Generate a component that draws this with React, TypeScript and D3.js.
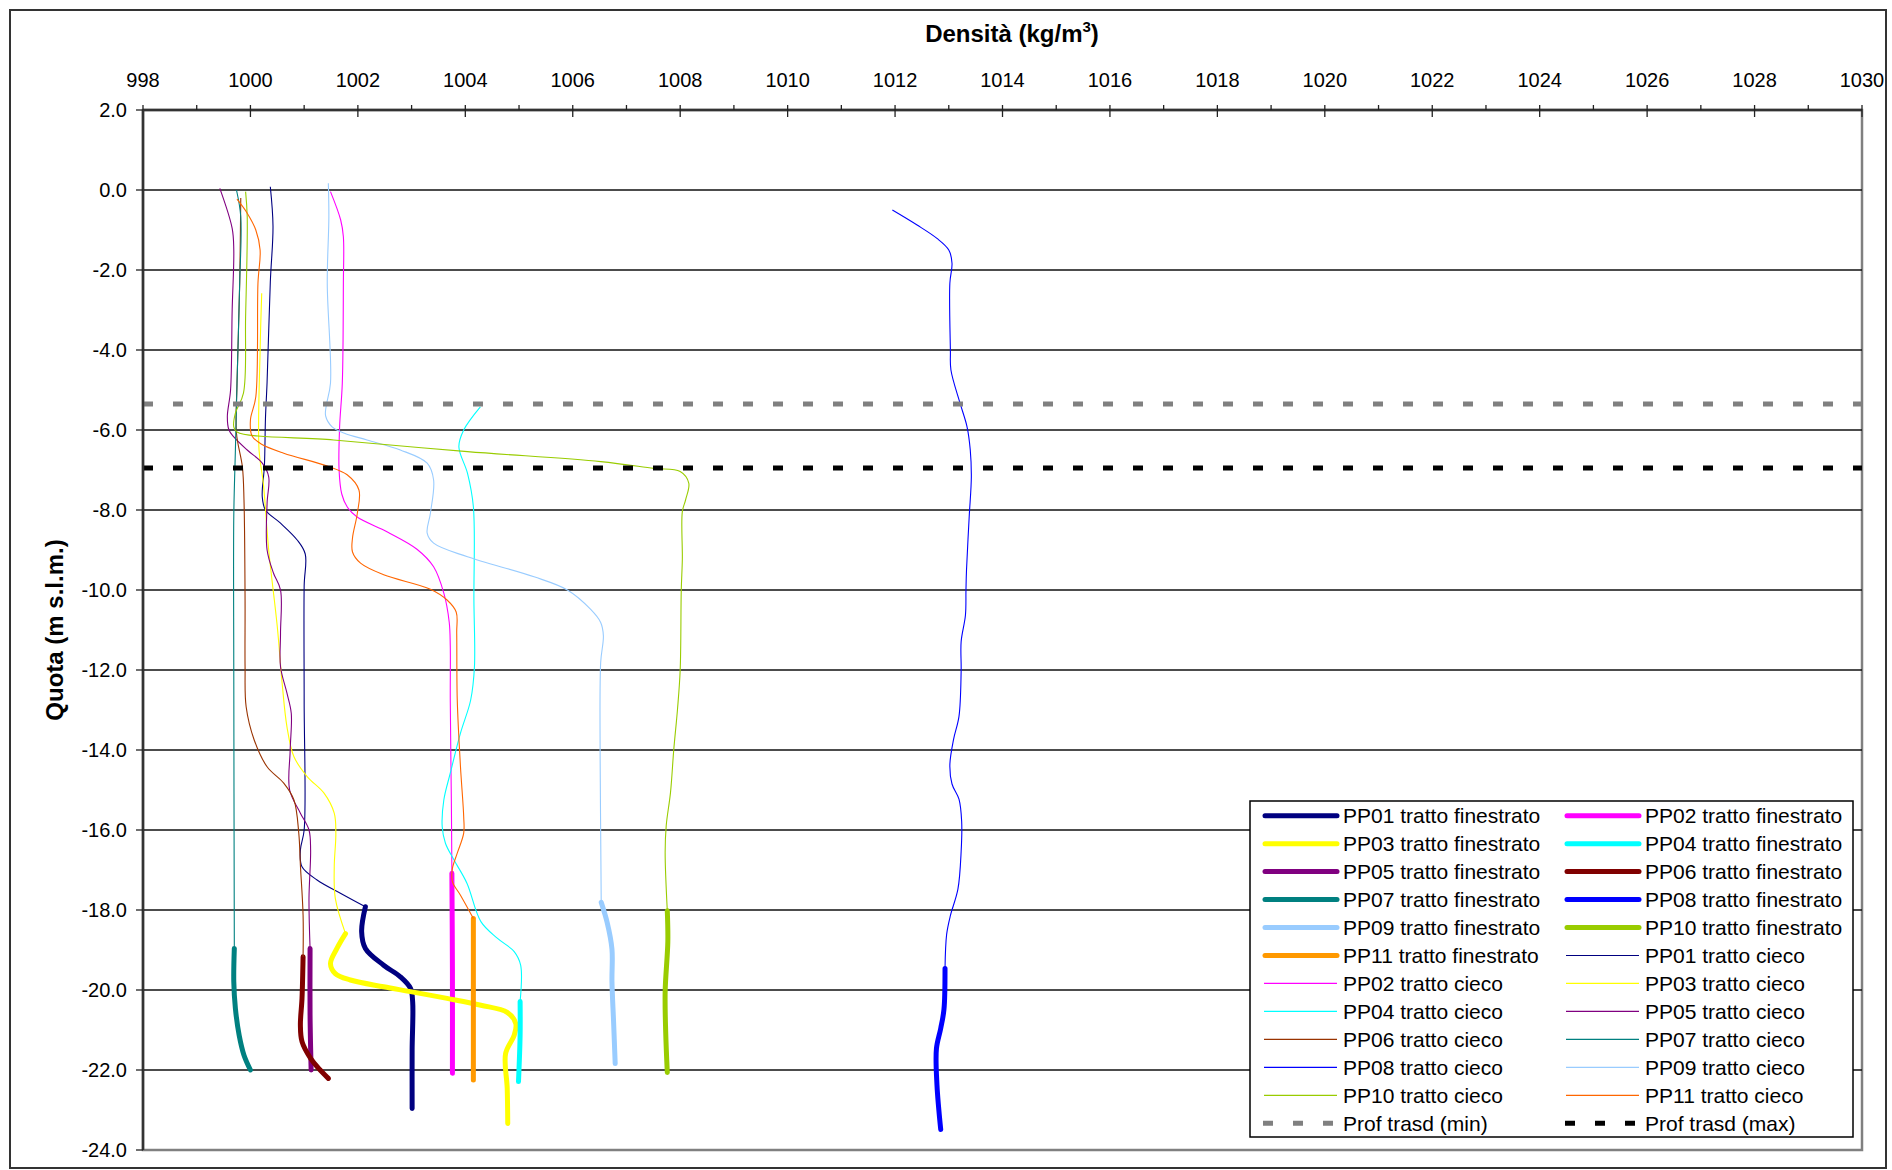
import React from "react";
import * as d3 from "d3";

// ---------- axis ticks ----------
const xTicks = d3.range(998, 1031, 2);
const xMinorTicks = d3.range(999, 1030, 2);
const yTicks = d3.range(2, -25, -2);

// ---------- series data: [density kg/m3, quota m s.l.m.] ----------
const pp01Fin = [[1002.14, -17.92], [1002.07, -18.54], [1002.14, -18.96], [1002.48, -19.38], [1002.79, -19.67], [1002.98, -19.96], [1003.02, -20.3], [1003.01, -21.5], [1003.01, -22.96]];
const pp02Fin = [[1003.75, -17.08], [1003.76, -19.5], [1003.76, -22.08]];
const pp03Fin = [[1001.77, -18.59], [1001.61, -18.96], [1001.49, -19.34], [1001.58, -19.59], [1001.86, -19.75], [1002.48, -19.92], [1002.98, -20.04], [1003.66, -20.21], [1004.29, -20.38], [1004.78, -20.56], [1004.94, -20.84], [1004.91, -21.13], [1004.75, -21.59], [1004.78, -22.46], [1004.79, -23.34]];
const pp04Fin = [[1005.02, -20.29], [1005.02, -21.13], [1004.99, -22.29]];
const pp05Fin = [[1001.11, -18.96], [1001.11, -20.63], [1001.13, -22.0]];
const pp06Fin = [[1000.98, -19.17], [1000.96, -20.21], [1000.93, -20.88], [1000.96, -21.29], [1001.12, -21.71], [1001.27, -21.96], [1001.45, -22.21]];
const pp07Fin = [[999.7, -18.96], [999.69, -19.79], [999.72, -20.46], [999.79, -21.13], [999.88, -21.63], [1000.0, -22.0]];
const pp08Fin = [[1012.93, -19.46], [1012.91, -20.49], [1012.85, -20.96], [1012.77, -21.47], [1012.78, -22.37], [1012.85, -23.49]];
const pp09Fin = [[1006.53, -17.81], [1006.64, -18.31], [1006.73, -18.98], [1006.73, -19.79], [1006.76, -20.79], [1006.79, -21.84]];
const pp10Fin = [[1007.76, -18.02], [1007.77, -18.79], [1007.72, -20.04], [1007.73, -21.04], [1007.76, -22.06]];
const pp11Fin = [[1004.15, -18.21], [1004.15, -20.0], [1004.15, -22.25]];

const pp01Cieco = [[1000.37, 0.08], [1000.42, -0.9], [1000.37, -2.3], [1000.31, -4.8], [1000.28, -5.7], [1000.26, -6.9], [1000.22, -7.67], [1000.28, -8.0], [1000.56, -8.33], [1000.87, -8.75], [1001.02, -9.1], [1001.0, -9.9], [1001.0, -12.75], [1001.0, -16.0], [1000.93, -16.5], [1000.96, -16.92], [1001.24, -17.25], [1001.7, -17.6], [1002.14, -17.92]];
const pp02Cieco = [[1001.49, -0.04], [1001.68, -0.75], [1001.73, -1.17], [1001.73, -2.33], [1001.71, -4.83], [1001.66, -5.92], [1001.65, -7.0], [1001.7, -7.6], [1001.8, -7.92], [1001.98, -8.17], [1002.55, -8.55], [1003.1, -8.98], [1003.41, -9.42], [1003.6, -10.08], [1003.7, -10.8], [1003.72, -11.4], [1003.72, -12.75], [1003.74, -15.25], [1003.75, -17.08]];
const pp03Cieco = [[1000.21, -2.58], [1000.18, -4.0], [1000.16, -6.5], [1000.24, -7.33], [1000.34, -9.0], [1000.5, -10.92], [1000.59, -12.33], [1000.68, -13.42], [1000.81, -14.17], [1001.06, -14.67], [1001.37, -15.08], [1001.56, -15.58], [1001.59, -16.08], [1001.56, -16.92], [1001.58, -17.71], [1001.77, -18.59]];
const pp04Cieco = [[1004.28, -5.42], [1003.97, -6.0], [1003.88, -6.42], [1004.04, -7.08], [1004.15, -7.92], [1004.16, -10.25], [1004.17, -11.92], [1004.1, -12.75], [1003.91, -13.58], [1003.72, -14.58], [1003.6, -15.25], [1003.57, -15.92], [1003.63, -16.33], [1003.79, -16.75], [1004.03, -17.33], [1004.29, -18.29], [1004.6, -18.71], [1004.91, -19.04], [1005.03, -19.38], [1005.02, -20.29]];
const pp05Cieco = [[999.43, 0.04], [999.66, -0.96], [999.69, -1.5], [999.66, -3.0], [999.63, -5.0], [999.57, -5.67], [999.6, -6.0], [999.69, -6.17], [999.94, -6.5], [1000.22, -6.83], [1000.34, -7.17], [1000.31, -7.83], [1000.31, -9.0], [1000.43, -9.58], [1000.56, -10.0], [1000.56, -11.08], [1000.56, -11.92], [1000.68, -12.58], [1000.76, -13.08], [1000.74, -14.0], [1000.73, -15.0], [1000.93, -15.58], [1001.09, -16.0], [1001.12, -16.5], [1001.09, -17.71], [1001.11, -18.96]];
const pp06Cieco = [[999.82, -0.2], [999.8, -2.33], [999.75, -4.83], [999.74, -6.08], [999.85, -6.92], [999.88, -7.75], [999.9, -10.25], [999.9, -11.92], [999.92, -12.92], [1000.07, -13.75], [1000.31, -14.42], [1000.62, -14.83], [1000.81, -15.25], [1000.9, -16.08], [1000.93, -16.88], [1000.98, -18.13], [1000.98, -19.17]];
const pp07Cieco = [[999.74, 0.0], [999.82, -0.67], [999.8, -2.33], [999.75, -4.83], [999.72, -6.5], [999.69, -8.17], [999.69, -12.0], [999.7, -18.96]];
const pp08Cieco = [[1011.95, -0.5], [1012.41, -0.875], [1012.78, -1.21], [1013.0, -1.5], [1013.06, -1.83], [1013.02, -2.33], [1013.03, -4.0], [1013.04, -4.5], [1013.21, -5.33], [1013.34, -5.92], [1013.4, -6.5], [1013.42, -7.17], [1013.38, -8.17], [1013.33, -9.5], [1013.32, -10.0], [1013.31, -10.63], [1013.23, -11.29], [1013.23, -12.04], [1013.19, -13.16], [1013.09, -13.73], [1013.02, -14.38], [1013.06, -14.85], [1013.19, -15.23], [1013.24, -15.79], [1013.23, -16.54], [1013.17, -17.48], [1013.03, -18.14], [1012.96, -18.61], [1012.93, -19.46]];
const pp09Cieco = [[1001.45, 0.17], [1001.46, -0.67], [1001.43, -2.33], [1001.49, -4.83], [1001.41, -5.4], [1001.4, -5.65], [1001.52, -5.92], [1001.75, -6.08], [1002.17, -6.25], [1002.79, -6.5], [1003.29, -6.83], [1003.41, -7.25], [1003.35, -8.08], [1003.29, -8.58], [1003.41, -8.83], [1004.04, -9.17], [1005.28, -9.67], [1005.9, -10.0], [1006.33, -10.48], [1006.52, -10.81], [1006.57, -11.14], [1006.52, -11.81], [1006.51, -14.23], [1006.52, -16.06], [1006.53, -17.81]];
const pp10Cieco = [[999.91, -0.04], [999.94, -0.67], [999.91, -3.17], [999.87, -5.08], [999.72, -5.58], [999.69, -5.92], [999.75, -6.05], [1001.55, -6.25], [1004.04, -6.54], [1006.52, -6.79], [1007.51, -6.96], [1008.0, -7.04], [1008.16, -7.33], [1008.1, -7.75], [1008.04, -8.04], [1008.04, -9.23], [1008.02, -10.0], [1008.0, -12.0], [1007.95, -12.98], [1007.88, -14.0], [1007.82, -15.06], [1007.74, -15.89], [1007.72, -16.56], [1007.76, -18.02]];
const pp11Cieco = [[999.75, -0.23], [999.94, -0.58], [1000.1, -1.0], [1000.18, -1.5], [1000.14, -2.33], [1000.1, -5.17], [1000.0, -5.75], [1000.03, -6.15], [1000.2, -6.35], [1000.62, -6.58], [1001.43, -6.9], [1001.8, -7.12], [1002.02, -7.5], [1001.99, -8.08], [1001.9, -8.7], [1001.9, -9.05], [1002.05, -9.33], [1002.48, -9.62], [1003.35, -9.98], [1003.66, -10.25], [1003.83, -10.55], [1003.84, -11.08], [1003.85, -12.75], [1003.91, -14.42], [1003.97, -15.67], [1003.97, -16.08], [1003.85, -16.58], [1003.76, -16.96], [1003.76, -17.29], [1003.91, -17.63], [1004.15, -18.21]];

const profMin = -5.35;
const profMax = -6.95;

// ---------- series styling table ----------
const thickSeries = [
  { name: "PP01 tratto finestrato", data: pp01Fin, color: "#000080" },
  { name: "PP02 tratto finestrato", data: pp02Fin, color: "#FF00FF" },
  { name: "PP03 tratto finestrato", data: pp03Fin, color: "#FFFF00" },
  { name: "PP04 tratto finestrato", data: pp04Fin, color: "#00FFFF" },
  { name: "PP05 tratto finestrato", data: pp05Fin, color: "#800080" },
  { name: "PP06 tratto finestrato", data: pp06Fin, color: "#800000" },
  { name: "PP07 tratto finestrato", data: pp07Fin, color: "#008080" },
  { name: "PP08 tratto finestrato", data: pp08Fin, color: "#0000FF" },
  { name: "PP09 tratto finestrato", data: pp09Fin, color: "#99CCFF" },
  { name: "PP10 tratto finestrato", data: pp10Fin, color: "#99CC00" },
  { name: "PP11 tratto finestrato", data: pp11Fin, color: "#FF9900" },
];
const thinSeries = [
  { name: "PP01 tratto cieco", data: pp01Cieco, color: "#000080" },
  { name: "PP02 tratto cieco", data: pp02Cieco, color: "#FF00FF" },
  { name: "PP03 tratto cieco", data: pp03Cieco, color: "#FFFF00" },
  { name: "PP04 tratto cieco", data: pp04Cieco, color: "#00FFFF" },
  { name: "PP05 tratto cieco", data: pp05Cieco, color: "#800080" },
  { name: "PP06 tratto cieco", data: pp06Cieco, color: "#993300" },
  { name: "PP07 tratto cieco", data: pp07Cieco, color: "#008080" },
  { name: "PP08 tratto cieco", data: pp08Cieco, color: "#0000FF" },
  { name: "PP09 tratto cieco", data: pp09Cieco, color: "#99CCFF" },
  { name: "PP10 tratto cieco", data: pp10Cieco, color: "#99CC00" },
  { name: "PP11 tratto cieco", data: pp11Cieco, color: "#FF6600" },
];
const dashSeries = [
  { name: "Prof trasd (min)", value: profMin, color: "#808080" },
  { name: "Prof trasd (max)", value: profMax, color: "#000000" },
];

const W = 1892;
const H = 1170;
const L = 143, R = 1862, T = 110, B = 1150;
const FONT = "'Liberation Sans', Arial, sans-serif";

export default function App() {
  const x = d3.scaleLinear().domain([998, 1030]).range([L, R]);
  const y = d3.scaleLinear().domain([2, -24]).range([T, B]);
  const line = d3
    .line<number[]>()
    .x((d) => x(d[0]))
    .y((d) => y(d[1]))
    .curve(d3.curveCatmullRom.alpha(0.5));

  type Item = { name: string; kind: "thick" | "thin" | "dash"; color: string };
  const legendItems: Item[] = [
    ...thickSeries.map((s) => ({ name: s.name, kind: "thick" as const, color: s.color })),
    ...thinSeries.map((s) => ({ name: s.name, kind: "thin" as const, color: s.color })),
    ...dashSeries.map((s) => ({ name: s.name, kind: "dash" as const, color: s.color })),
  ];
  const legX = 1250, legY = 801, legW = 603, legH = 336;
  const rowY0 = 815.7, rowStep = 27.96;
  const colLineX = [1263, 1565];
  const colTextX = [1343, 1645];

  return (
    <svg
      width={W}
      height={H}
      style={{ position: "absolute", left: 0, top: 0, background: "#fff" }}
      fontFamily={FONT}
    >
      <rect x={0} y={0} width={W} height={H} fill="#fff" />
      <rect x={10} y={10} width={1876} height={1158} fill="#fff" stroke="#333" strokeWidth={2} />

      {/* plot area border */}
      <rect x={L} y={T} width={R - L} height={B - T} fill="#fff" stroke="#808080" strokeWidth={2.5} />

      {/* horizontal gridlines */}
      {yTicks.slice(1, -1).map((t) => (
        <line key={"g" + t} x1={L} x2={R} y1={y(t)} y2={y(t)} stroke="#111" strokeWidth={1.3} />
      ))}

      {/* thick (finestrato) series */}
      {thickSeries.map((s) => (
        <path key={s.name} d={line(s.data) || ""} fill="none" stroke={s.color} strokeWidth={5} strokeLinecap="round" strokeLinejoin="round" />
      ))}
      {/* thin (cieco) series */}
      {thinSeries.map((s) => (
        <path key={s.name} d={line(s.data) || ""} fill="none" stroke={s.color} strokeWidth={1.1} />
      ))}
      {/* dashed depth lines */}
      {dashSeries.map((s) => (
        <line key={s.name} x1={L} x2={R} y1={y(s.value)} y2={y(s.value)} stroke={s.color} strokeWidth={5} strokeDasharray="10 20" />
      ))}

      {/* x axis (top) */}
      <line x1={L} x2={R} y1={T} y2={T} stroke="#333" strokeWidth={2.5} />
      {xTicks.map((t) => (
        <g key={"xt" + t}>
          <line x1={x(t)} x2={x(t)} y1={T - 5} y2={T + 7} stroke="#222" strokeWidth={1.3} />
          <text x={x(t)} y={86.5} textAnchor="middle" fontSize={20} fill="#000">
            {t}
          </text>
        </g>
      ))}
      {xMinorTicks.map((t) => (
        <line key={"xm" + t} x1={x(t)} x2={x(t)} y1={T - 5} y2={T} stroke="#222" strokeWidth={1.3} />
      ))}

      {/* y axis (left) */}
      <line x1={L} x2={L} y1={T} y2={B} stroke="#333" strokeWidth={2.5} />
      {yTicks.map((t) => (
        <g key={"yt" + t}>
          <line x1={L - 7} x2={L} y1={y(t)} y2={y(t)} stroke="#222" strokeWidth={1.3} />
          <text x={127} y={y(t) + 7} textAnchor="end" fontSize={20} fill="#000">
            {t.toFixed(1)}
          </text>
        </g>
      ))}

      {/* axis titles */}
      <text x={1012} y={42} textAnchor="middle" fontSize={24} fontWeight="bold" fill="#000">
        Densità (kg/m<tspan fontSize={15} dy={-10}>3</tspan><tspan dy={10}>)</tspan>
      </text>
      <text
        transform={`translate(63, ${(T + B) / 2}) rotate(-90)`}
        textAnchor="middle"
        fontSize={24}
        fontWeight="bold"
        fill="#000"
      >
        Quota (m s.l.m.)
      </text>

      {/* legend */}
      <rect x={legX} y={legY} width={legW} height={legH} fill="#fff" stroke="#000" strokeWidth={1.5} />
      {legendItems.map((it, i) => {
        const row = Math.floor(i / 2);
        const col = i % 2;
        const cy = rowY0 + row * rowStep;
        const lx = colLineX[col];
        return (
          <g key={"lg" + it.name}>
            {it.kind === "thick" && (
              <line x1={lx + 2} x2={lx + 74} y1={cy} y2={cy} stroke={it.color} strokeWidth={5} strokeLinecap="round" />
            )}
            {it.kind === "thin" && (
              <line x1={lx + 1} x2={lx + 74} y1={cy} y2={cy} stroke={it.color} strokeWidth={1.2} />
            )}
            {it.kind === "dash" && (
              <line x1={lx} x2={lx + 76} y1={cy} y2={cy} stroke={it.color} strokeWidth={5} strokeDasharray="10 20" />
            )}
            <text x={colTextX[col]} y={cy + 7.5} fontSize={21} fill="#000">
              {it.name}
            </text>
          </g>
        );
      })}
    </svg>
  );
}
